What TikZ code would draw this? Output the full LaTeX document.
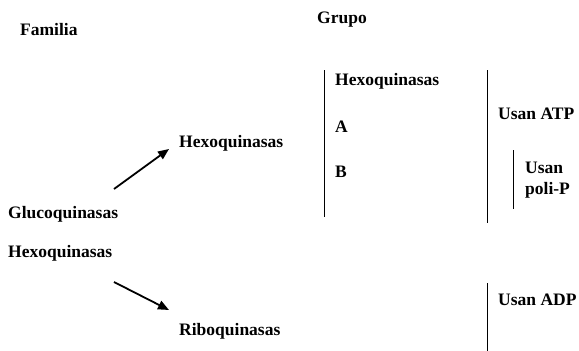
\documentclass[tikz,border=0pt]{standalone}
\usepackage{fontspec}
\setmainfont{Liberation Serif}
\usetikzlibrary{arrows.meta,positioning}

\begin{document}
\begin{tikzpicture}[x=1pt,y=-1pt,
        txt/.style={anchor=base west,inner sep=0pt,font=\fontsize{17.5}{21}\selectfont\bfseries},
        flecha/.style={-{Triangle[length=11pt,width=9pt]},line width=1.8pt},
        barra/.style={line width=0.8pt}]
      \useasboundingbox (0,0) rectangle (579,351);
      % columnas
      \node[txt] (fam) at (20,35) {Familia};
      \node[txt] (grp) at (317,23) {Grupo};
      % familias
      \node[txt] (gluco) at (8,218) {Glucoquinasas};
      \node[txt] (hexo) at (8,257) {Hexoquinasas};
      \node[txt] (hexoB) at (179,147) {Hexoquinasas};
      \node[txt] (ribo) at (179,335) {Riboquinasas};
      % grupos
      \node[txt] (hexoG) at (335,85) {Hexoquinasas};
      \node[txt] (gA) at (335,132) {A};
      \node[txt] (gB) at (335,177) {B};
      \node[txt] (atp) at (498,119) {Usan ATP};
      \node[txt] (usan) at (525,173) {Usan};
      \node[txt] (polip) at (525,194) {poli-P};
      \node[txt] (adp) at (498,305) {Usan ADP};
      % flechas
      \coordinate (a1) at (114,189);
      \coordinate (a2) at (169,149);
      \coordinate (b1) at (114,282);
      \coordinate (b2) at (169,310);
      \draw[flecha] (a1) -- (a2);
      \draw[flecha] (b1) -- (b2);
      % barras
      \draw[barra] (324,70) -- (324,217);
      \draw[barra] (487,70) -- (487,223);
      \draw[barra] (513,150) -- (513,209);
      \draw[barra] (487,283) -- (487,351);
\end{tikzpicture}
\end{document}
